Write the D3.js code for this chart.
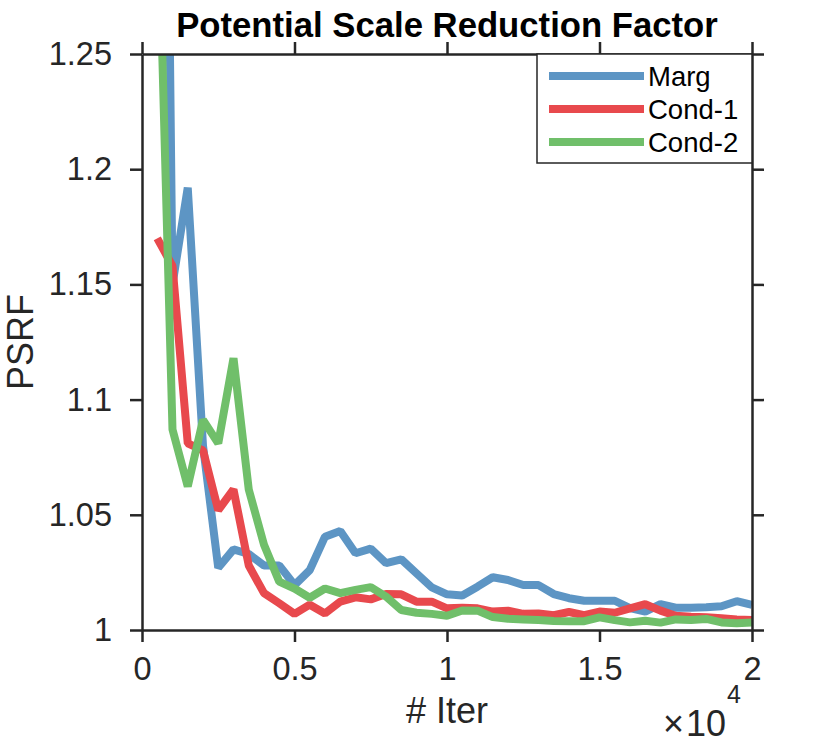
<!DOCTYPE html>
<html>
<head>
<meta charset="utf-8">
<script src="https://cdn.jsdelivr.net/npm/d3@7"></script>
<style>
  body { margin: 0; background: #fff; }
  svg { font-family: "Liberation Sans", Arial, Helvetica, sans-serif; }
  .axis path, .axis line { stroke: #262626; stroke-width: 2.5; }
  .axis text { fill: #262626; font-size: 32.5px; }
  .chart-title { font-size: 34.7px; font-weight: bold; fill: #000; }
</style>
</head>
<body>
<svg id="chart" width="830" height="744"></svg>
<script>
// iterations (x axis, shown in units of 10^4)
const iters = [500, 1000, 1500, 2000, 2500, 3000, 3500, 4000, 4500, 5000,
  5500, 6000, 6500, 7000, 7500, 8000, 8500, 9000, 9500, 10000,
  10500, 11000, 11500, 12000, 12500, 13000, 13500, 14000, 14500, 15000,
  15500, 16000, 16500, 17000, 17500, 18000, 18500, 19000, 19500, 20000];

// PSRF for each sampler
const marg = [1.75, 1.15, 1.192, 1.08, 1.027, 1.035, 1.033, 1.028, 1.028, 1.0195,
  1.026, 1.0405, 1.043, 1.0333, 1.0353, 1.029, 1.0307, 1.0246, 1.0185, 1.0155,
  1.015, 1.0188, 1.0229, 1.0217, 1.0195, 1.0195, 1.0156, 1.0138, 1.0127, 1.0127,
  1.0127, 1.0095, 1.008, 1.0112, 1.0097, 1.0097, 1.0099, 1.0103, 1.0125, 1.0109];
const cond1 = [1.17, 1.158, 1.081, 1.078, 1.052, 1.061, 1.028, 1.016, 1.0116, 1.007,
  1.011, 1.0072, 1.0123, 1.0142, 1.0133, 1.0156, 1.0155, 1.0123, 1.0123, 1.0094,
  1.0097, 1.0094, 1.008, 1.0084, 1.007, 1.0072, 1.0064, 1.0078, 1.0064, 1.008,
  1.0075, 1.0094, 1.0112, 1.0084, 1.0062, 1.0058, 1.0055, 1.0051, 1.0046, 1.0043];
const cond2 = [1.33, 1.087, 1.0623, 1.0912, 1.081, 1.118, 1.061, 1.037, 1.021, 1.018,
  1.014, 1.018, 1.016, 1.0174, 1.0186, 1.0145, 1.0087, 1.0075, 1.007, 1.0062,
  1.0085, 1.0084, 1.0056, 1.0049, 1.0046, 1.0043, 1.0039, 1.0038, 1.0038, 1.0055,
  1.0043, 1.0033, 1.004, 1.0032, 1.0046, 1.0043, 1.0048, 1.0033, 1.0029, 1.0033];

const seriesNames = ["Marg", "Cond-1", "Cond-2"];
const seriesColors = ["#5D95C4", "#E8494D", "#70BF6A"];
const xTicks = [0, 5000, 10000, 15000, 20000];
const yTicks = [1, 1.05, 1.1, 1.15, 1.2, 1.25];

const width = 830, height = 744;
const margin = { top: 54, right: 78, bottom: 114, left: 142 };
const innerW = width - margin.left - margin.right;
const innerH = height - margin.top - margin.bottom;

const svg = d3.select("#chart");
const g = svg.append("g").attr("transform", `translate(${margin.left},${margin.top})`);

const x = d3.scaleLinear().domain([0, 20000]).range([0, innerW]);
const y = d3.scaleLinear().domain([1, 1.25]).range([innerH, 0]);

// clip lines to the axes box like matlab does
svg.append("defs").append("clipPath").attr("id", "plot-clip")
    .append("rect").attr("width", innerW).attr("height", innerH);

// lines (blue first, green on top)
const series = [marg, cond1, cond2];
const line = d3.line().x((d, i) => x(iters[i])).y(d => y(d));
g.append("g").attr("clip-path", "url(#plot-clip)")
    .selectAll("path")
    .data(series)
    .join("path")
    .attr("d", d => line(d))
    .attr("fill", "none")
    .attr("stroke", (d, i) => seriesColors[i])
    .attr("stroke-width", 8)
    .attr("stroke-linejoin", "bevel");

// axes, ticks pointing out on all four sides
const fmtX = d => String(d / 10000);
const fmtY = d => String(+d.toFixed(2));
g.append("g").attr("class", "axis").attr("transform", `translate(0,${innerH})`)
    .call(d3.axisBottom(x).tickValues(xTicks).tickFormat(fmtX).tickSize(12).tickSizeOuter(0).tickPadding(15));
g.append("g").attr("class", "axis")
    .call(d3.axisTop(x).tickValues(xTicks).tickFormat("").tickSize(12).tickSizeOuter(0));
g.append("g").attr("class", "axis")
    .call(d3.axisLeft(y).tickValues(yTicks).tickFormat(fmtY).tickSize(12).tickSizeOuter(0).tickPadding(18));
g.append("g").attr("class", "axis").attr("transform", `translate(${innerW},0)`)
    .call(d3.axisRight(y).tickValues(yTicks).tickFormat("").tickSize(12).tickSizeOuter(0));

// title
svg.append("text")
    .attr("x", margin.left + innerW / 2)
    .attr("y", 37)
    .attr("text-anchor", "middle")
    .attr("class", "chart-title")
    .text("Potential Scale Reduction Factor");

// axis labels
svg.append("text")
    .attr("x", margin.left + innerW / 2)
    .attr("y", 723)
    .attr("text-anchor", "middle")
    .attr("fill", "#262626")
    .style("font-size", "36px")
    .text("# Iter");

svg.append("text")
    .attr("transform", `translate(33,${margin.top + innerH / 2}) rotate(-90)`)
    .attr("text-anchor", "middle")
    .attr("fill", "#262626")
    .style("font-size", "36px")
    .text("PSRF");

// x10^4 exponent (kept just left of the "2" tick label)
const expo = svg.append("text")
    .attr("x", 663)
    .attr("y", 736)
    .attr("fill", "#262626")
    .style("font-size", "36px");
expo.append("tspan").text("\u00D7");
expo.append("tspan").attr("dx", 2).text("10");
expo.append("tspan").attr("dy", -33).attr("dx", 1).style("font-size", "25px").text("4");

// legend
const legend = svg.append("g").attr("transform", "translate(537,54)");
legend.append("rect")
    .attr("width", 215).attr("height", 109)
    .attr("fill", "#fff").attr("stroke", "#262626").attr("stroke-width", 1.5);
const items = legend.selectAll("g.item")
    .data(seriesNames)
    .join("g")
    .attr("class", "item")
    .attr("transform", (d, i) => `translate(0,${22 + i * 33})`);
items.append("line")
    .attr("x1", 12).attr("x2", 107)
    .attr("stroke", (d, i) => seriesColors[i])
    .attr("stroke-width", 8);
items.append("text")
    .attr("x", 111).attr("y", 10)
    .attr("fill", "#000")
    .style("font-size", "27.5px")
    .text(d => d);
</script>
</body>
</html>
